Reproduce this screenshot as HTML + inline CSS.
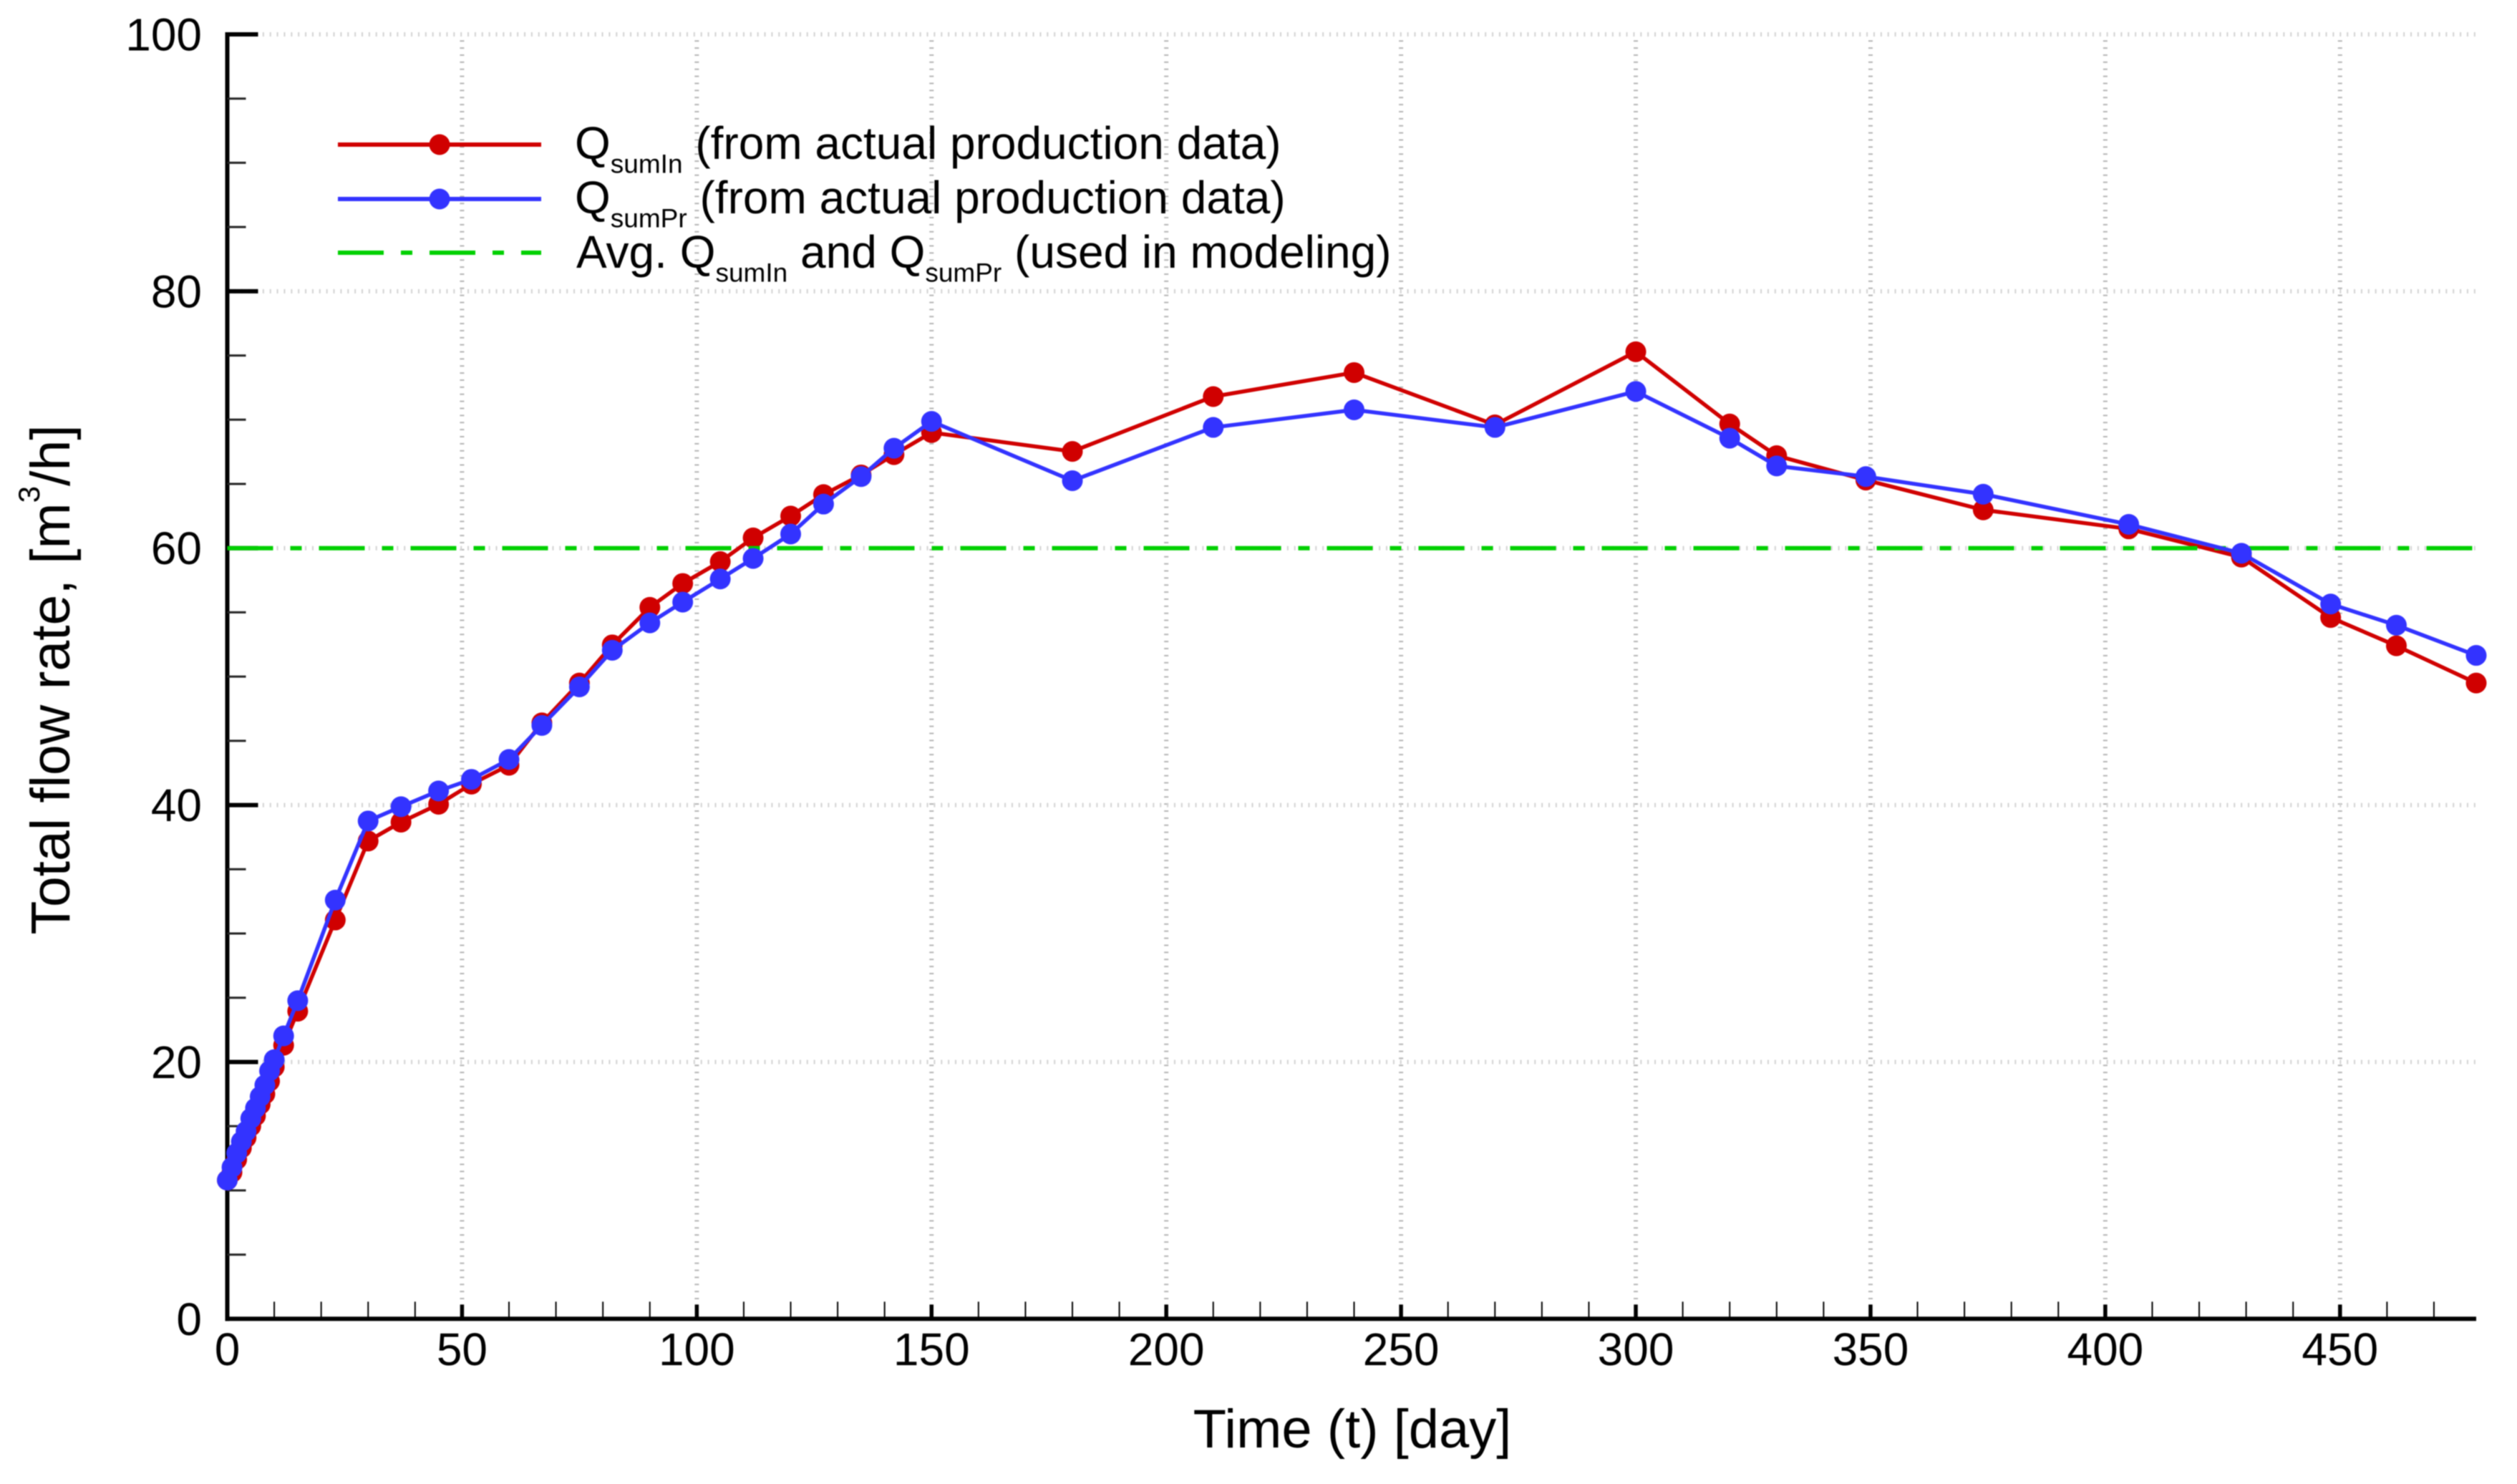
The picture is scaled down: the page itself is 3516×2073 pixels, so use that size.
<!DOCTYPE html>
<html lang="en">
<head>
<meta charset="utf-8">
<title>Total flow rate vs time</title>
<style>
  html, body { margin: 0; padding: 0; background: #fff; }
  #chart { display: block; width: 3516px; height: 2073px; filter: blur(0.7px); }
  text { font-family: "Liberation Sans", Arial, sans-serif; fill: #000; }
</style>
</head>
<body>
<svg id="chart" xmlns="http://www.w3.org/2000/svg" width="3516" height="2073" viewBox="0 0 3516 2073">
  <rect x="0" y="0" width="3516" height="2073" fill="#ffffff"/>
  <g id="grid"></g>
  <g id="series-red"></g>
  <g id="series-green"></g>
  <g id="series-blue"></g>
  <g id="axes"></g>
  <g id="legend">
    <g>
      <line x1="472" y1="202" x2="756" y2="202" stroke="#d00000" stroke-width="6"/>
      <circle cx="614" cy="202" r="14.5" fill="#d00000"/>
      <text x="803" y="222" font-size="64">Q<tspan font-size="37" dy="19.5">sumIn</tspan><tspan dy="-19.5"> (from actual production data)</tspan></text>
    </g>
    <g>
      <line x1="472" y1="278" x2="756" y2="278" stroke="#3333ff" stroke-width="6"/>
      <circle cx="614" cy="278" r="14.5" fill="#3333ff"/>
      <text x="803" y="298" font-size="64">Q<tspan font-size="37" dy="19.5">sumPr</tspan><tspan dy="-19.5"> (from actual production data)</tspan></text>
    </g>
    <g>
      <line x1="472" y1="353" x2="756" y2="353" stroke="#00d000" stroke-width="6" stroke-dasharray="64 24 16 24"/>
      <text x="805" y="374" font-size="64">Avg. Q<tspan font-size="37" dy="19.5">sumIn</tspan><tspan dy="-19.5"> and Q</tspan><tspan font-size="37" dy="19.5">sumPr</tspan><tspan dy="-19.5"> (used in modeling)</tspan></text>
    </g>
  </g>
  <text x="1889" y="2022" font-size="76" text-anchor="middle">Time (t) [day]</text>
  <text transform="translate(97 949.5) rotate(-90)" x="0" y="0" font-size="77" text-anchor="middle">Total flow rate, [m<tspan font-size="42" dy="-42">3</tspan><tspan dy="42">/h]</tspan></text>
</svg>
<script>
const days = [0,1,2,3,4,5,6,7,8,9,10,12,15,23,30,37,45,52,60,67,75,82,90,97,105,112,120,127,135,142,150,180,210,240,270,300,320,330,349,374,405,429,448,462,479];
const qSumIn = [10.8,11.4,12.4,13.3,14.1,15.0,15.8,16.7,17.5,18.5,19.6,21.3,23.95,31.05,37.2,38.67,40.06,41.63,43.1,46.4,49.5,52.47,55.39,57.25,58.95,60.8,62.5,64.17,65.7,67.28,69.0,67.53,71.8,73.67,69.6,75.29,69.67,67.2,65.3,62.98,61.5,59.3,54.6,52.4,49.5];
const qSumPr = [10.8,11.8,12.9,13.8,14.6,15.6,16.4,17.3,18.2,19.3,20.18,22.03,24.77,32.6,38.76,39.87,41.1,42.0,43.55,46.2,49.2,52.05,54.18,55.8,57.6,59.2,61.1,63.43,65.57,67.78,69.87,65.25,69.4,70.77,69.4,72.2,68.56,66.4,65.57,64.2,61.85,59.6,55.65,54.0,51.65];
const averageFlow = [60];
const xTickLabels = [0,50,100,150,200,250,300,350,400,450];
const xMinorTicks = [10,20,30,40,60,70,80,90,110,120,130,140,160,170,180,190,210,220,230,240,260,270,280,290,310,320,330,340,360,370,380,390,410,420,430,440,460,470];
const yTickLabels = [0,20,40,60,80,100];
const yMinorTicks = [5,10,15,25,30,35,45,50,55,65,70,75,85,90,95];

const X0 = 317.5, X1 = 3459, XMAX = 479;
const Y0 = 1842.3, Y1 = 48, YMAX = 100;
function xScale(t) { return X0 + t * (X1 - X0) / XMAX; }
function yScale(v) { return Y0 - v * (Y0 - Y1) / YMAX; }

const NS = 'http://www.w3.org/2000/svg';
function make(tag, attrs, parent) {
  const node = document.createElementNS(NS, tag);
  for (const k in attrs) node.setAttribute(k, attrs[k]);
  parent.appendChild(node);
  return node;
}

const grid = document.getElementById('grid');
const axes = document.getElementById('axes');

xTickLabels.forEach(function (t) {
  if (t === 0) return;
  const g = make('line', {x1: xScale(t), y1: 56.3, x2: xScale(t), y2: Y0 - 20, stroke: '#b4b4b4', 'stroke-width': 6, 'stroke-dasharray': '2 7.869'}, grid);
  
  
});
yTickLabels.forEach(function (v) {
  if (v === 0) return;
  const g = make('line', {x1: X0, y1: yScale(v), x2: X1, y2: yScale(v), stroke: '#d2d2d2', 'stroke-width': 6, 'stroke-dasharray': '2 7.869'}, grid);
  
  
});

const yAxisLine = make('line', {x1: X0, y1: Y1 - 3, x2: X0, y2: Y0 + 3, stroke: '#000', 'stroke-width': 6}, axes);


const xAxisLine = make('line', {x1: X0 - 3, y1: Y0, x2: X1, y2: Y0, stroke: '#000', 'stroke-width': 6}, axes);



xTickLabels.forEach(function (t) {
  if (t !== 0) {
    const tick = make('line', {x1: xScale(t), y1: Y0, x2: xScale(t), y2: Y0 - 20, stroke: '#000', 'stroke-width': 5.5}, axes);
    
    
  }
  const label = make('text', {x: xScale(t), y: 1907, 'font-size': 64, 'text-anchor': 'middle'}, axes);
  label.textContent = t;
  
  
});
xMinorTicks.forEach(function (t) {
  const tick = make('line', {x1: xScale(t), y1: Y0, x2: xScale(t), y2: Y0 - 24, stroke: '#000', 'stroke-width': 2}, axes);
  
  
});
yTickLabels.forEach(function (v) {
  if (v !== 0) {
    const tick = make('line', {x1: X0, y1: yScale(v), x2: X0 + 43, y2: yScale(v), stroke: '#000', 'stroke-width': 6}, axes);
    
    
  }
  const label = make('text', {x: 282, y: yScale(v) + 22.5, 'font-size': 64, 'text-anchor': 'end'}, axes);
  label.textContent = v;
  
  
});
yMinorTicks.forEach(function (v) {
  const tick = make('line', {x1: X0, y1: yScale(v), x2: X0 + 26, y2: yScale(v), stroke: '#222', 'stroke-width': 3}, axes);
  
  
});

function pointsFor(values) {
  return days.map(function (t, i) { return xScale(t) + ',' + yScale(values[i]); }).join(' ');
}

const redGroup = document.getElementById('series-red');
const redLine = make('polyline', {points: pointsFor(qSumIn), fill: 'none', stroke: '#d00000', 'stroke-width': 5.5, 'stroke-linejoin': 'round'}, redGroup);


days.forEach(function (t, i) {
  const dot = make('circle', {cx: xScale(t), cy: yScale(qSumIn[i]), r: 14.5, fill: '#d00000'}, redGroup);
  
  
});

const greenGroup = document.getElementById('series-green');
const greenLine = make('line', {x1: xScale(0), y1: yScale(averageFlow[0]), x2: X1, y2: yScale(averageFlow[0]), stroke: '#00d000', 'stroke-width': 6, 'stroke-dasharray': '64 24 16 24'}, greenGroup);



const blueGroup = document.getElementById('series-blue');
const blueLine = make('polyline', {points: pointsFor(qSumPr), fill: 'none', stroke: '#3333ff', 'stroke-width': 5.5, 'stroke-linejoin': 'round'}, blueGroup);


days.forEach(function (t, i) {
  const dot = make('circle', {cx: xScale(t), cy: yScale(qSumPr[i]), r: 14.5, fill: '#3333ff'}, blueGroup);
  
  
});

// The series markers sit in front of the axis lines, as in the reference.
const svgRoot = document.getElementById('chart');
svgRoot.insertBefore(axes, redGroup);
</script>
</body>
</html>
